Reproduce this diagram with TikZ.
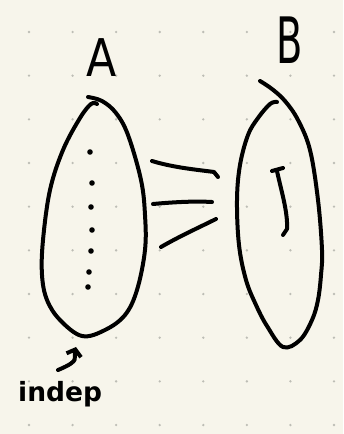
\documentclass[tikz,border=0pt]{standalone}
\usepackage{fontspec}
\setmainfont{DejaVu Sans}
\usetikzlibrary{arrows.meta}
\definecolor{paper}{HTML}{F7F5EB}
\definecolor{griddot}{HTML}{BDBDB5}
\begin{document}
\begin{tikzpicture}[x=1pt,y=-1pt,
  ink/.style={line width=4pt, line cap=round, line join=round, black},
  dotmark/.style={fill=black},
  hand/.style={inner sep=0pt, text=black}]
\fill[paper] (0,0) rectangle (343,434);
\useasboundingbox (0,0) rectangle (343,434);
% grid dots
\foreach \i in {0,...,7} \foreach \j in {0,...,9}
  \fill[griddot] ({29+43.57*\i},{32+43.67*\j}) circle (1.3);
% labels
\node[hand, font=\fontsize{52}{52}\selectfont, xscale=0.85] (labA) at (102,58) {A};
\node[hand, font=\fontsize{64}{64}\selectfont, xscale=0.6] (labB) at (290,40) {B};
\node[hand, font=\bfseries\fontsize{26.5}{26.5}\selectfont, anchor=base west] (indep) at (18,401) {indep};
% set A
\draw[ink] plot[smooth, tension=0.6] coordinates {(97,104) (91,104) (80,118) (63,150) (50,190) (43,240) (42,275) (47,300) (60,320) (82,336) (105,330) (125,315) (137,290) (145,250) (145,215) (141,180) (128,135) (116,113) (102,101) (88,97)};
% set B
\draw[ink] plot[smooth, tension=0.6] coordinates {(277,102) (270,104) (258,118) (248,135) (240,165) (237,200) (239,245) (246,280) (256,305) (267,326) (283,347) (300,340) (312,320) (318,300) (321,275) (322,250) (318,200) (310,150) (298,120) (285,101) (272,89) (260,81)};
% dots in A
\foreach \p [count=\k] in {(90,152),(92,183),(91,207),(92,230),(91,251),(89,272),(88,287)}
  \fill[dotmark] \p circle (2.8);
% connectors between A and B
\coordinate (l1a) at (152,161); \coordinate (l1b) at (218,177);
\coordinate (l2a) at (153,204); \coordinate (l2b) at (212,202);
\coordinate (l3a) at (161,247); \coordinate (l3b) at (216,219);
\draw[ink] (l1a) .. controls (175,168) and (200,170) .. (214,172) -- (l1b);
\draw[ink] (l2a) .. controls (175,202) and (195,201) .. (l2b);
\draw[ink] (l3a) .. controls (180,236) and (200,227) .. (l3b);
% bracket in B
\coordinate (bt1) at (272,171); \coordinate (bt2) at (283,168);
\coordinate (bv1) at (277,171); \coordinate (bv2) at (287,229); \coordinate (bv3) at (283,235);
\draw[ink] (bt1) -- (bt2);
\draw[ink] (bv1) .. controls (281,190) and (288,212) .. (bv2) -- (bv3);
% arrow from indep to A
\coordinate (arrtail) at (58,370);
\coordinate (arrtip) at (76,347);
\draw[ink, -{Straight Barb[length=6pt,width=15pt]}] (arrtail) .. controls (82,360) and (73,358) .. (arrtip);
\end{tikzpicture}
\end{document}
